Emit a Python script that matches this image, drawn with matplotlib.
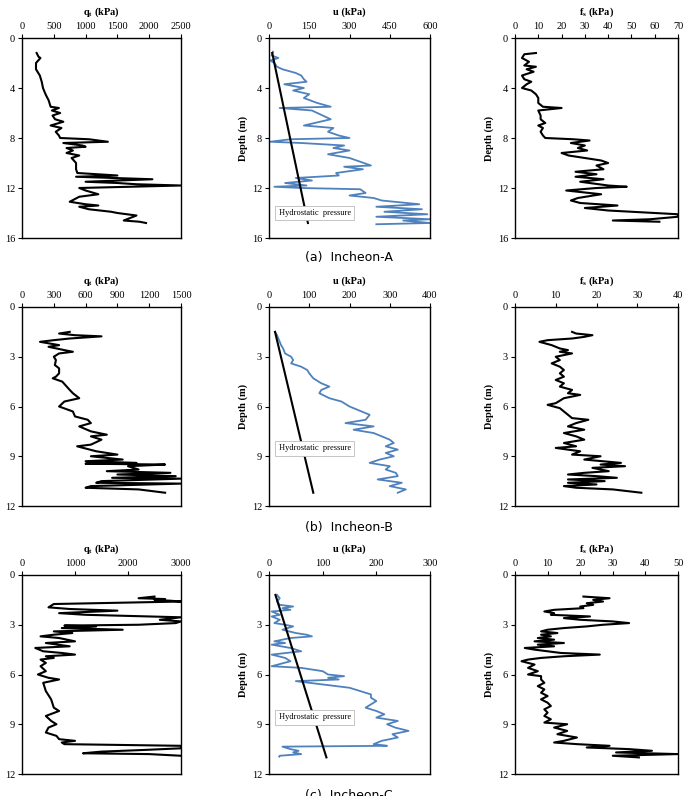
import matplotlib
matplotlib.use("Agg")
import matplotlib.pyplot as plt

# ---------------- Incheon-A ----------------
qt_a_depth = [1.2, 1.5, 1.6, 2.0, 2.5, 3.0, 3.5, 4.0, 4.5, 5.0, 5.5, 5.6, 5.8, 6.0, 6.2, 6.5, 6.7, 7.0, 7.2,
              7.5, 7.8, 8.0, 8.1, 8.3, 8.4, 8.6, 8.7, 8.8, 9.0, 9.2, 9.4, 9.6, 10.0, 10.5, 10.8, 11.0, 11.1,
              11.3, 11.5, 11.6, 11.7, 11.8, 11.9, 12.0, 12.2, 12.5, 12.7, 13.1, 13.3, 13.4, 13.5, 13.7, 13.9,
              14.0, 14.2, 14.4, 14.6, 14.7, 14.8]
qt_a = [230, 260, 290, 220, 220, 280, 310, 330, 370, 420, 450, 580, 470, 600, 480, 520, 650, 450, 620,
        530, 580, 600, 1050, 1350, 650, 950, 1000, 700, 800, 700, 900, 780, 850, 850, 870, 1500, 850,
        2050, 1000, 1500, 1800, 2500, 1700, 900, 1000, 1200, 900, 750, 1000, 1200, 900, 1050, 1400,
        1500, 1800, 1700, 1600, 1850, 1950]

u_a_depth = [1.1, 1.4, 1.6, 1.8, 2.0, 2.3, 2.5, 2.8, 3.0, 3.3, 3.5, 3.7, 4.0, 4.2, 4.5, 4.8, 5.2, 5.5, 5.6,
             5.8, 6.2, 6.5, 6.8, 7.0, 7.2, 7.5, 7.8, 8.0, 8.1, 8.3, 8.4, 8.6, 8.8, 9.0, 9.3, 9.6, 10.2,
             10.3, 10.5, 10.8, 11.0, 11.2, 11.4, 11.6, 11.8, 11.9, 12.0, 12.1, 12.4, 12.6, 12.8, 13.0,
             13.3, 13.5, 13.7, 13.9, 14.1, 14.3, 14.5, 14.6, 14.8, 14.9]
u_a = [15, 10, 35, 5, 20, 30, 50, 100, 120, 130, 140, 57, 130, 90, 150, 130, 180, 230, 40,
       160, 200, 230, 170, 130, 240, 220, 260, 300, 80, 5, 120, 280, 240, 300, 220, 300, 380,
       280, 350, 250, 260, 100, 160, 60, 140, 20, 120, 340, 360, 300, 390, 420,
       560, 400, 570, 430, 590, 400, 600, 500, 600, 400]
hyd_a_depth = [1.2, 14.8]
hyd_a = [12, 145]

fs_a_depth = [1.2, 1.3, 1.6, 1.9, 2.2, 2.3, 2.5, 2.7, 3.0, 3.3, 3.5, 3.7, 4.0, 4.2, 4.5, 4.8, 5.2, 5.5,
              5.6, 5.8, 6.2, 6.5, 6.8, 7.0, 7.2, 7.5, 7.8, 8.0, 8.1, 8.2, 8.4, 8.6, 8.8, 9.0, 9.2, 9.4,
              9.6, 9.8, 10.0, 10.2, 10.5, 10.7, 10.9, 11.1, 11.3, 11.5, 11.8, 11.9, 12.0, 12.2, 12.5,
              12.8, 13.0, 13.2, 13.4, 13.6, 13.8, 14.0, 14.1, 14.3, 14.5, 14.6, 14.7]
fs_a = [9, 4, 3, 6, 4, 9, 5, 8, 3, 4, 7, 5, 3, 7, 9, 10, 10, 12,
        20, 10, 11, 11, 13, 10, 12, 11, 12, 13, 25, 32, 24, 30, 27, 31, 20, 23,
        30, 37, 40, 35, 38, 26, 35, 26, 38, 28, 40, 48, 35, 22, 37,
        27, 24, 28, 44, 30, 40, 60, 70, 70, 58, 42, 62]

# ---------------- Incheon-B ----------------
qt_b_depth = [1.5, 1.6, 1.7, 1.77, 1.9, 2.0, 2.1, 2.3, 2.4, 2.6, 2.7, 2.8, 3.0, 3.2, 3.5, 3.7, 4.0, 4.2,
              4.3, 4.5, 5.0, 5.2, 5.5, 5.7, 6.0, 6.3, 6.6, 6.8, 7.0, 7.2, 7.5, 7.7, 7.8, 8.0, 8.3, 8.4,
              8.7, 8.9, 9.0, 9.2, 9.3, 9.4, 9.45, 9.5, 9.6, 9.8, 9.9, 10.0, 10.1, 10.2, 10.3, 10.35,
              10.5, 10.6, 10.65, 10.8, 10.9, 11.0, 11.2]
qt_b = [450, 350, 500, 750, 450, 300, 170, 350, 250, 400, 480, 350, 300, 320, 310, 350, 350, 320,
        290, 380, 450, 480, 540, 400, 350, 480, 500, 620, 650, 540, 650, 800, 650, 750, 650, 520,
        700, 900, 650, 950, 600, 1080, 600, 1350, 1000, 1100, 800, 1400, 900, 1450, 850, 1500,
        750, 700, 1500, 650, 600, 1100, 1350]

u_b_depth = [1.5, 1.7, 2.0, 2.3, 2.5, 2.8, 3.0, 3.2, 3.4, 3.6, 3.8, 4.0, 4.3, 4.6, 4.8, 5.0, 5.2, 5.5,
             5.7, 6.0, 6.2, 6.5, 6.8, 7.0, 7.2, 7.4, 7.6, 7.8, 8.0, 8.2, 8.4, 8.6, 8.8, 9.0, 9.2, 9.4,
             9.6, 9.8, 10.0, 10.2, 10.4, 10.6, 10.8, 11.0, 11.2]
u_b = [15, 20, 25, 30, 35, 40, 55, 60, 55, 80, 95, 100, 110, 130, 150, 130, 125, 150,
       180, 200, 220, 250, 240, 190, 260, 210, 260, 280, 300, 310, 290, 320, 290, 310, 275, 250,
       300, 290, 315, 320, 270, 330, 300, 340, 320]
hyd_b_depth = [1.5, 11.2]
hyd_b = [15, 110]

fs_b_depth = [1.5, 1.6, 1.7, 1.8, 1.9, 2.0, 2.1, 2.3, 2.5, 2.6, 2.7, 2.8, 3.0, 3.2, 3.4, 3.6, 3.8, 4.0,
              4.2, 4.4, 4.6, 4.8, 5.0, 5.2, 5.3, 5.5, 5.8, 5.9, 6.1, 6.3, 6.5, 6.7, 6.8, 7.0, 7.2, 7.4,
              7.6, 7.8, 8.0, 8.2, 8.4, 8.5, 8.7, 8.9, 9.0, 9.2, 9.4, 9.5, 9.6, 9.7, 9.9, 10.0, 10.1,
              10.2, 10.3, 10.4, 10.5, 10.6, 10.7, 10.8, 10.9, 11.0, 11.2]
fs_b = [14, 15, 19, 17, 14, 8, 6, 9, 11, 13, 11, 14, 10, 11, 9, 11, 12, 11,
        12, 10, 12, 11, 14, 13, 16, 12, 10, 8, 11, 12, 13, 14, 18, 15, 13, 17,
        12, 15, 17, 12, 15, 10, 16, 14, 21, 17, 26, 21, 27, 19, 23, 17, 13,
        20, 25, 13, 22, 13, 20, 12, 15, 24, 31]

# ---------------- Incheon-C ----------------
qt_c_depth = [1.3, 1.4, 1.45, 1.5, 1.55, 1.6, 1.75, 1.95, 2.05, 2.15, 2.3, 2.4, 2.55, 2.7, 2.8, 2.9,
              3.0, 3.05, 3.1, 3.2, 3.3, 3.4, 3.5, 3.6, 3.7, 3.8, 4.0, 4.1, 4.3, 4.4, 4.6, 4.7, 4.8,
              4.9, 5.0, 5.1, 5.3, 5.5, 5.8, 6.0, 6.2, 6.3, 6.5, 7.0, 7.5, 8.0, 8.2, 8.5, 8.8, 9.0,
              9.2, 9.5, 9.7, 9.9, 10.0, 10.1, 10.2, 10.3, 10.45, 10.55, 10.65, 10.75, 10.8, 10.85, 10.9]
qt_c = [2500, 2200, 2700, 2500, 2800, 3000, 600, 500, 900, 1800, 700, 1200, 3000, 2600, 3000, 2900,
        2200, 800, 1400, 750, 1900, 600, 950, 600, 350, 700, 1000, 450, 900, 250, 400, 750, 1000,
        450, 600, 350, 450, 350, 450, 300, 500, 700, 400, 450, 550, 600, 700, 450, 550, 650,
        500, 450, 650, 700, 1000, 750, 800, 3000, 3000, 2300, 1500, 1150, 2400, 2700, 3000]

u_c_depth = [1.2, 1.4, 1.6, 1.8, 1.9, 2.0, 2.1, 2.2, 2.4, 2.5, 2.7, 2.9, 3.0, 3.1, 3.3, 3.5, 3.6, 3.7,
             3.8, 4.0, 4.1, 4.2, 4.4, 4.6, 4.8, 5.0, 5.2, 5.5, 5.6, 5.8, 6.0, 6.1, 6.2, 6.3, 6.4, 6.6,
             6.8, 7.0, 7.2, 7.4, 7.6, 7.8, 8.0, 8.2, 8.4, 8.6, 8.8, 9.0, 9.2, 9.4, 9.6, 9.8, 10.0,
             10.2, 10.3, 10.35, 10.5, 10.6, 10.7, 10.8, 10.9, 10.95]
u_c = [15, 20, 15, 20, 45, 25, 40, 5, 20, 5, 20, 10, 30, 45, 25, 50, 70, 80,
       40, 10, 30, 5, 40, 60, 5, 30, 40, 5, 60, 100, 110, 140, 110, 130, 50, 100,
       150, 170, 190, 190, 200, 190, 180, 200, 215, 200, 240, 220, 235, 260, 230, 240, 210,
       195, 220, 25, 40, 55, 45, 60, 20, 19]
hyd_c_depth = [1.2, 11.0]
hyd_c = [12, 107]

fs_c_depth = [1.3, 1.4, 1.5, 1.6, 1.7, 1.8, 1.9, 2.0, 2.1, 2.2, 2.3, 2.4, 2.5, 2.6, 2.7, 2.8, 2.9, 3.0,
              3.1, 3.2, 3.3, 3.4, 3.5, 3.6, 3.7, 3.8, 3.9, 4.0, 4.1, 4.2, 4.3, 4.4, 4.5, 4.6, 4.7, 4.8,
              4.9, 5.0, 5.1, 5.2, 5.4, 5.6, 5.8, 6.0, 6.1, 6.3, 6.5, 6.7, 6.9, 7.1, 7.3, 7.5, 7.7,
              7.9, 8.1, 8.3, 8.5, 8.7, 8.9, 9.0, 9.2, 9.4, 9.6, 9.8, 10.0, 10.1, 10.2, 10.3, 10.4,
              10.5, 10.6, 10.7, 10.8, 10.9, 11.0]
fs_c = [21, 29, 24, 27, 22, 24, 20, 21, 12, 9, 12, 11, 23, 15, 20, 30, 35, 27,
        22, 15, 10, 8, 13, 8, 11, 7, 12, 6, 15, 7, 12, 3, 6, 10, 14, 26,
        15, 8, 4, 2, 6, 4, 7, 4, 8, 8, 9, 7, 9, 8, 10, 8, 10,
        11, 9, 10, 9, 11, 9, 16, 12, 16, 13, 19, 15, 12, 19, 29, 22,
        35, 42, 31, 50, 30, 38]

site_titles = ["(a)  Incheon-A", "(b)  Incheon-B", "(c)  Incheon-C"]

rows = [
    dict(depth_max=16, yticks=[0, 4, 8, 12, 16],
         qt=(qt_a_depth, qt_a, [0, 500, 1000, 1500, 2000, 2500]),
         u=(u_a_depth, u_a, [0, 150, 300, 450, 600]), hyd=(hyd_a_depth, hyd_a),
         fs=(fs_a_depth, fs_a, [0, 10, 20, 30, 40, 50, 60, 70])),
    dict(depth_max=12, yticks=[0, 3, 6, 9, 12],
         qt=(qt_b_depth, qt_b, [0, 300, 600, 900, 1200, 1500]),
         u=(u_b_depth, u_b, [0, 100, 200, 300, 400]), hyd=(hyd_b_depth, hyd_b),
         fs=(fs_b_depth, fs_b, [0, 10, 20, 30, 40])),
    dict(depth_max=12, yticks=[0, 3, 6, 9, 12],
         qt=(qt_c_depth, qt_c, [0, 1000, 2000, 3000]),
         u=(u_c_depth, u_c, [0, 100, 200, 300]), hyd=(hyd_c_depth, hyd_c),
         fs=(fs_c_depth, fs_c, [0, 10, 20, 30, 40, 50])),
]

W, H = 685, 796
col_x = [(22, 181), (269, 430), (515, 678)]
row_y = [(38, 238), (307, 506), (575, 774)]
title_y = [258, 527, 795]
hyd_box_y = [0.125, 0.29, 0.285]

serif = "Liberation Serif"
blue = "#4f81bd"

fig = plt.figure(figsize=(W / 100, H / 100), dpi=100)


def make_ax(ci, ri):
    x0, x1 = col_x[ci]
    y0, y1 = row_y[ri]
    ax = fig.add_axes([x0 / W, 1 - y1 / H, (x1 - x0) / W, (y1 - y0) / H])
    ax.xaxis.tick_top()
    ax.xaxis.set_label_position("top")
    ax.tick_params(direction="out", length=3, width=0.8, labelsize=7.5, pad=2)
    for lab in ax.get_xticklabels() + ax.get_yticklabels():
        lab.set_family(serif)
    for s in ax.spines.values():
        s.set_linewidth(1.0)
    return ax


for ri, r in enumerate(rows):
    panels = [("qt", r"q$_\mathregular{t}$ (kPa)"), ("u", "u (kPa)"), ("fs", r"f$_\mathregular{s}$ (kPa)")]
    for ci, (key, xlabel) in enumerate(panels):
        ax = make_ax(ci, ri)
        d, v, xt = r[key]
        if key == "u":
            ax.plot(v, d, color=blue, lw=1.3, zorder=2)
            hd, hv = r["hyd"]
            ax.plot(hv, hd, color="black", lw=1.5, zorder=3)
            ax.text(0.06, hyd_box_y[ri], "Hydrostatic  pressure", transform=ax.transAxes,
                    fontsize=6, family=serif, va="center", ha="left", zorder=5,
                    bbox=dict(boxstyle="square,pad=0.4", fc="white", ec="#bbbbbb", lw=0.6))
        else:
            ax.plot(v, d, color="black", lw=1.5)
        ax.set_xlim(xt[0], xt[-1])
        ax.set_xticks(xt)
        ax.set_ylim(r["depth_max"], 0)
        ax.set_yticks(r["yticks"])
        for lab in ax.get_xticklabels() + ax.get_yticklabels():
            lab.set_family(serif)
        ax.set_xlabel(xlabel, fontsize=7.5, family=serif, fontweight="bold", labelpad=5)
        if ci > 0:
            ax.set_ylabel("Depth (m)", fontsize=7.5, family=serif, fontweight="bold", labelpad=3)
    fig.text(349 / W, 1 - title_y[ri] / H, site_titles[ri], ha="center", va="center",
             fontsize=9, family="DejaVu Sans")

fig.savefig("out.png", dpi=100)
